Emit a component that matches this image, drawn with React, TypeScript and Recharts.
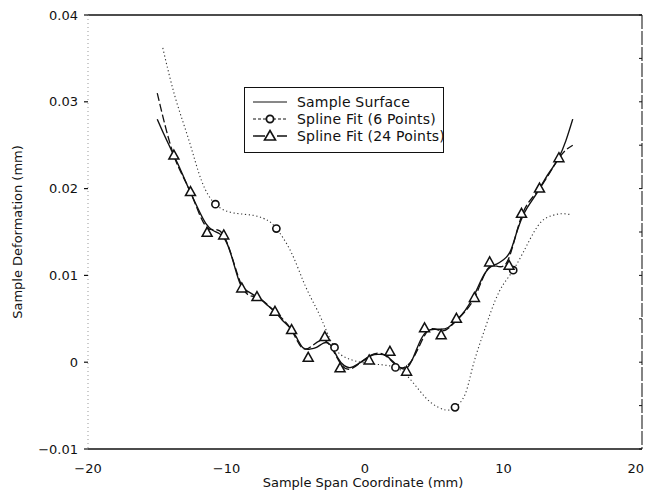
import { ComposedChart, Line, Scatter, XAxis, YAxis } from "recharts";

// sample surface profile (mm)
const surfaceX = [-15, -14.5, -14, -13.5, -13, -12.5, -12, -11.5, -11, -10.5, -10, -9.5, -9, -8.5, -8, -7.5, -7, -6.5, -6, -5.5, -5, -4.5, -4, -3.5, -3, -2.5, -2, -1.5, -1, -0.5, 0, 0.5, 1, 1.5, 2, 2.5, 3, 3.5, 4, 4.5, 5, 5.5, 6, 6.5, 7, 7.5, 8, 8.5, 9, 9.5, 10, 10.5, 11, 11.5, 12, 12.5, 13, 13.5, 14, 14.5, 15];
const surfaceY = [0.028, 0.0262, 0.0245, 0.0228, 0.021, 0.0192, 0.0175, 0.016, 0.0152, 0.0148, 0.0138, 0.0115, 0.009, 0.0082, 0.0077, 0.0072, 0.0065, 0.0058, 0.0049, 0.0041, 0.003, 0.0017, 0.0015, 0.0017, 0.0022, 0.002, 0.0006, -0.0004, -0.0006, -0.0002, 0.0003, 0.0008, 0.0009, 0.0008, 0.0001, -0.0006, -0.0007, 0.0006, 0.0025, 0.0036, 0.0038, 0.0038, 0.004, 0.0047, 0.0055, 0.0066, 0.0081, 0.0098, 0.0109, 0.0113, 0.0118, 0.0128, 0.0152, 0.0172, 0.0185, 0.0197, 0.0211, 0.0223, 0.0236, 0.0255, 0.028];

// 6 point spline fit
const fit6X = [-14.6, -13.7, -12.7, -11.8, -10.8, -9.5, -8, -7, -6.4, -5.4, -4.5, -3.8, -3.1, -2.2, -1.2, 0, 1.2, 2.2, 3, 3.9, 4.8, 5.8, 6.5, 7.2, 7.7, 8.2, 8.8, 9.4, 10, 10.7, 11.6, 12.2, 12.8, 13.5, 14.2, 14.9];
const fit6Y = [0.0362, 0.0305, 0.0255, 0.0209, 0.0182, 0.0172, 0.0169, 0.0163, 0.0154, 0.0129, 0.0095, 0.0071, 0.0048, 0.0017, 0.0004, -0.0001, -0.0003, -0.0006, -0.0015, -0.0032, -0.0047, -0.0055, -0.0052, -0.0038, -0.001, 0.0017, 0.0045, 0.0071, 0.009, 0.0106, 0.0132, 0.015, 0.0163, 0.0169, 0.0171, 0.017];
const knots6X = [-10.8, -6.4, -2.2, 2.2, 6.5, 10.7];
const knots6Y = [0.0182, 0.0154, 0.0017, -0.0006, -0.0052, 0.0106];

// 24 point spline fit
const fit24X = [-15, -13.8, -12.6, -11.4, -10.2, -8.9, -7.8, -6.5, -5.3, -4.3, -2.9, -1.6, -0.3, 1.2, 2.5, 3.6, 4.6, 5.6, 6.6, 7.9, 9, 10.2, 11.3, 12.6, 14, 15];
const fit24Y = [0.031, 0.0238, 0.0196, 0.0155, 0.0146, 0.0088, 0.0075, 0.0058, 0.0037, 0.0015, 0.0025, -0.0005, 0, 0.001, -0.0006, 0.0008, 0.0037, 0.0036, 0.0048, 0.0074, 0.011, 0.0114, 0.0168, 0.02, 0.0235, 0.025];
const knots24X = [-13.8, -12.6, -11.4, -10.2, -8.9, -7.8, -6.5, -5.3, -4.1, -2.9, -1.8, 0.3, 1.8, 3, 4.3, 5.5, 6.6, 7.9, 9, 10.4, 11.3, 12.6, 14];
const knots24Y = [0.0238, 0.0196, 0.0149, 0.0146, 0.0085, 0.0075, 0.0058, 0.0037, 0.0005, 0.0029, -0.0007, 0.0002, 0.0012, -0.0011, 0.0039, 0.0031, 0.005, 0.0074, 0.0115, 0.0111, 0.0171, 0.02, 0.0235];

const xTicks = [-20, -10, 0, 10, 20];
const yTicks = [-0.01, 0, 0.01, 0.02, 0.03, 0.04];
const yMinorTicks = [-0.01, -0.005, 0, 0.005, 0.01, 0.015, 0.02, 0.025, 0.03, 0.035, 0.04];

const legendLabels = ["Sample Surface", "Spline Fit (6 Points)", "Spline Fit (24 Points)"];

const zip = (xs: number[], ys: number[]) => xs.map((x, i) => ({ x, y: ys[i] }));

const surface = zip(surfaceX, surfaceY);
const fit6 = zip(fit6X, fit6Y);
const knots6 = zip(knots6X, knots6Y);
const fit24 = zip(fit24X, fit24Y);
const knots24 = zip(knots24X, knots24Y);

const FONT = "'DejaVu Sans', Arial, sans-serif";
const INK = "#111";

const minus = (s: string) => s.replace("-", "\u2212");
const fmtX = (v: number) => minus(String(v));
const fmtY = (v: number) => (v === 0 ? "0" : minus(v.toFixed(2)));

const Circle = (p: any) => <circle cx={p.cx} cy={p.cy} r={3.6} fill="#fff" stroke={INK} strokeWidth={1.6} />;
const Triangle = (p: any) => (
  <path
    d={`M${p.cx},${p.cy - 5.5} L${p.cx + 5},${p.cy + 3.5} L${p.cx - 5},${p.cy + 3.5} Z`}
    fill="#fff"
    stroke={INK}
    strokeWidth={1.5}
  />
);

// bottom tick label; the last one is pulled in so it stays on the page
const XTick = (p: any) => {
  const v = p.payload.value;
  const last = v === xTicks[xTicks.length - 1];
  return (
    <text
      x={p.x}
      y={p.y}
      dy="0.71em"
      textAnchor={last ? "end" : "middle"}
      dx={last ? 4 : 0}
      fontFamily={FONT}
      fontSize={13}
      fill={INK}
    >
      {fmtX(v)}
    </text>
  );
};

const XTitle = () => (
  <text x={363} y={487} textAnchor="middle" fontFamily={FONT} fontSize={13} fill={INK}>
    Sample Span Coordinate (mm)
  </text>
);
const YTitle = () => (
  <text x={22} y={232} transform="rotate(-90 22 232)" textAnchor="middle" fontFamily={FONT} fontSize={13} fill={INK}>
    Sample Deformation (mm)
  </text>
);

function LegendBox() {
  const sw = 44;
  return (
    <div
      style={{
        position: "absolute",
        left: 244,
        top: 87,
        width: 200,
        height: 66,
        border: "1.5px solid #111",
        boxSizing: "border-box",
        background: "#fff",
        fontFamily: FONT,
        fontSize: 14,
        color: INK,
        padding: "5px 0 0 4px",
      }}
    >
      {legendLabels.map((t, i) => (
        <div key={t} style={{ display: "flex", alignItems: "center", height: 17 }}>
          <svg width={sw} height={14} style={{ flex: "none" }}>
            {i === 0 && <line x1={4} x2={38} y1={7} y2={7} stroke={INK} strokeWidth={1} />}
            {i === 1 && (
              <>
                <line x1={4} x2={38} y1={7} y2={7} stroke={INK} strokeWidth={1} strokeDasharray="3 2" />
                <circle cx={21} cy={7} r={3.6} fill="#fff" stroke={INK} strokeWidth={1.8} />
              </>
            )}
            {i === 2 && (
              <>
                <line x1={4} x2={38} y1={7} y2={7} stroke={INK} strokeWidth={1.4} strokeDasharray="12 4 4 4" />
                <path d="M21,1.5 L26.5,11 L15.5,11 Z" fill="#fff" stroke={INK} strokeWidth={1.6} />
              </>
            )}
          </svg>
          <span style={{ marginLeft: 4, letterSpacing: 0.2, whiteSpace: "nowrap" }}>{t}</span>
        </div>
      ))}
    </div>
  );
}

export default function App() {
  return (
    <div style={{ position: "absolute", left: 0, top: 0, width: 648, height: 494, background: "#fff" }}>
      <ComposedChart width={648} height={494} margin={{ top: 14, right: 6, bottom: 0, left: 0 }}>
        <XAxis
          xAxisId="b"
          dataKey="x"
          type="number"
          domain={[-20, 20]}
          ticks={xTicks}
          allowDataOverflow
          height={45}
          axisLine={{ stroke: INK, strokeWidth: 1.6 }}
          tickLine={false}
          tickMargin={9}
          tick={XTick}
          label={{ content: XTitle }}
        />
        <XAxis
          xAxisId="t"
          dataKey="x"
          type="number"
          orientation="top"
          domain={[-20, 20]}
          ticks={xTicks}
          allowDataOverflow
          height={1}
          axisLine={{ stroke: INK, strokeWidth: 1.6 }}
          tickLine={false}
          tick={false}
        />
        <YAxis
          yAxisId="l"
          type="number"
          domain={[-0.01, 0.04]}
          ticks={yTicks}
          tickFormatter={fmtY}
          allowDataOverflow
          width={88}
          axisLine={{ stroke: "#999", strokeWidth: 1, strokeDasharray: "1 3" }}
          tickLine={{ stroke: INK, strokeWidth: 1.2 }}
          tickSize={4}
          tickMargin={6}
          tick={{ fill: INK, fontSize: 13, fontFamily: FONT }}
          label={{ content: YTitle }}
        />
        <YAxis
          yAxisId="r"
          type="number"
          orientation="right"
          domain={[-0.01, 0.04]}
          ticks={yMinorTicks}
          tickFormatter={() => ""}
          allowDataOverflow
          width={1}
          mirror
          axisLine={{ stroke: "#333", strokeWidth: 1.2, strokeDasharray: "14 2" }}
          tickLine={{ stroke: INK }}
          tickSize={3}
        />
        <Line
          xAxisId="b"
          yAxisId="l"
          data={fit6}
          dataKey="y"
          type="natural"
          stroke="#333"
          strokeWidth={1.1}
          strokeDasharray="1.2 2.6"
          dot={false}
          isAnimationActive={false}
        />
        <Line
          xAxisId="b"
          yAxisId="l"
          data={fit24}
          dataKey="y"
          type="natural"
          stroke={INK}
          strokeWidth={1.3}
          strokeDasharray="8 3"
          dot={false}
          isAnimationActive={false}
        />
        <Line
          xAxisId="b"
          yAxisId="l"
          data={surface}
          dataKey="y"
          type="natural"
          stroke={INK}
          strokeWidth={1.4}
          dot={false}
          isAnimationActive={false}
        />
        <Scatter xAxisId="b" yAxisId="l" data={knots6} dataKey="y" shape={Circle} isAnimationActive={false} />
        <Scatter xAxisId="b" yAxisId="l" data={knots24} dataKey="y" shape={Triangle} isAnimationActive={false} />
      </ComposedChart>
      <LegendBox />
    </div>
  );
}
